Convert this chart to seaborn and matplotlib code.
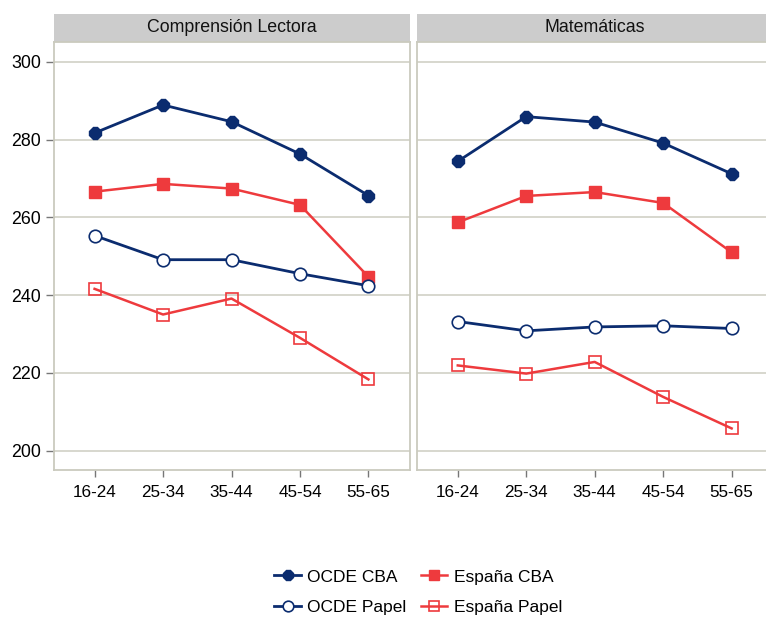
import matplotlib
matplotlib.use("Agg")
import matplotlib.pyplot as plt
import seaborn as sns
import pandas as pd
from matplotlib.patches import Rectangle
from matplotlib.lines import Line2D

age_groups = ["16-24", "25-34", "35-44", "45-54", "55-65"]
panels = ["Comprensión Lectora", "Matemáticas"]
series_names = ["OCDE CBA", "España CBA", "OCDE Papel", "España Papel"]

lectura_ocde_cba = [281.7, 288.9, 284.6, 276.3, 265.6]
lectura_espana_cba = [266.6, 268.6, 267.4, 263.2, 244.7]
lectura_ocde_papel = [255.3, 249.1, 249.1, 245.5, 242.4]
lectura_espana_papel = [241.6, 235.0, 239.1, 229.0, 218.3]

mat_ocde_cba = [274.4, 285.9, 284.5, 279.1, 271.2]
mat_espana_cba = [258.7, 265.5, 266.5, 263.7, 251.0]
mat_ocde_papel = [233.2, 230.8, 231.8, 232.1, 231.4]
mat_espana_papel = [221.9, 219.8, 222.8, 213.8, 205.7]

yticks = [200, 220, 240, 260, 280, 300]

data = {
    panels[0]: [lectura_ocde_cba, lectura_espana_cba, lectura_ocde_papel, lectura_espana_papel],
    panels[1]: [mat_ocde_cba, mat_espana_cba, mat_ocde_papel, mat_espana_papel],
}

NAVY = "#0B2C6F"
RED = "#EE3A3D"
styles = {
    "OCDE CBA": dict(color=NAVY, marker="8", markersize=9, mfc=NAVY, mec=NAVY, lw=2.0),
    "España CBA": dict(color=RED, marker="s", markersize=9, mfc=RED, mec=RED, lw=1.8),
    "OCDE Papel": dict(color=NAVY, marker="o", markersize=9, mfc="white", mec=NAVY, lw=2.0, mew=1.2),
    "España Papel": dict(color=RED, marker="s", markersize=9, mfc="none", mec=RED, lw=1.8, mew=1.2),
}

rows = []
for p in panels:
    for s, vals in zip(series_names, data[p]):
        for i, (a, v) in enumerate(zip(age_groups, vals)):
            rows.append(dict(panel=p, serie=s, x=i, age=a, value=v))
df = pd.DataFrame(rows)

plt.rcParams["font.family"] = ["Liberation Sans", "DejaVu Sans"]
fig = plt.figure(figsize=(7.66, 6.17), dpi=100)

W, H = 766, 617
ax_w = 356 / W
ax_h = (470 - 42) / H
bottom = (H - 470) / H
lefts = [53.5 / W, 416.7 / W]
GRID = "#D4D4CA"
BORDER = "#CACABE"

for k, p in enumerate(panels):
    ax = fig.add_axes([lefts[k], bottom, ax_w, ax_h])
    sub = df[df.panel == p]
    for s in series_names:
        st = styles[s]
        d = sub[sub.serie == s]
        sns.lineplot(data=d, x="x", y="value", ax=ax, color=st["color"],
                     marker=st["marker"], markersize=st["markersize"],
                     markerfacecolor=st["mfc"], markeredgecolor=st["mec"],
                     markeredgewidth=st.get("mew", 1.0), linewidth=st["lw"],
                     legend=False, zorder=3)
    ax.set_xlim(-0.6, 4.6)
    ax.set_ylim(195, 305.1)
    ax.set_xticks(range(len(age_groups)))
    ax.set_xticklabels(age_groups, fontsize=12.3)
    ax.set_yticks(yticks)
    ax.set_xlabel("")
    ax.set_ylabel("")
    ax.grid(axis="y", color=GRID, lw=1.3, zorder=0)
    ax.grid(axis="x", visible=False)
    ax.set_axisbelow(True)
    for sp in ax.spines.values():
        sp.set_color(BORDER)
        sp.set_linewidth(1.3)
    ax.tick_params(axis="x", length=5, width=1, color="#777777", pad=6)
    if k == 0:
        ax.tick_params(axis="y", length=6, width=1, color="#777777", labelsize=12.8, pad=3)
    else:
        ax.tick_params(axis="y", length=0, labelleft=False)
    ax.set_facecolor("white")
    strip_h = 28 / (470 - 42)
    ax.add_patch(Rectangle((0, 1), 1, strip_h, transform=ax.transAxes,
                           facecolor="#CCCCCC", edgecolor="none", clip_on=False))
    ax.text(0.5, 1 + strip_h / 2, p, transform=ax.transAxes, ha="center",
            va="center", fontsize=12.8, color="#111111")

handles = []
for s in series_names:
    st = styles[s]
    handles.append(Line2D([], [], color=st["color"], marker=st["marker"],
                          markersize=st["markersize"] * 0.85, markerfacecolor=st["mfc"],
                          markeredgecolor=st["mec"], markeredgewidth=st.get("mew", 1.0),
                          lw=st["lw"]))
order = [0, 2, 1, 3]
fig.legend([handles[i] for i in order], [series_names[i] for i in order],
           ncol=2, loc="center", bbox_to_anchor=(0.546, 0.040), frameon=False,
           fontsize=12.5, handlelength=1.5, handletextpad=0.4, columnspacing=0.8,
           labelspacing=0.9)

fig.savefig("out.png", dpi=100)
